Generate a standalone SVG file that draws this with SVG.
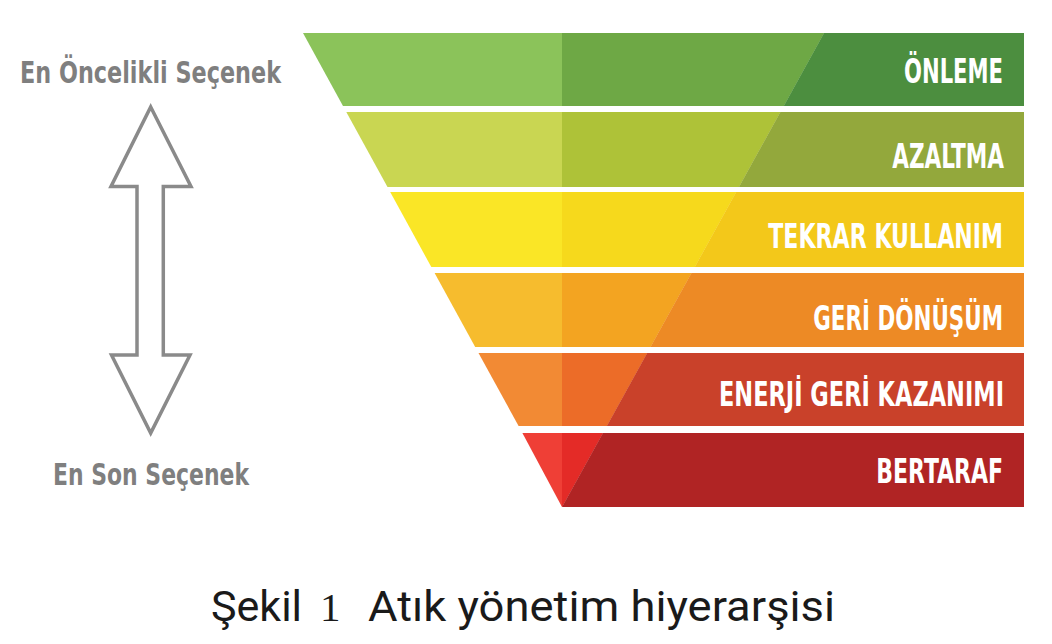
<svg xmlns="http://www.w3.org/2000/svg" width="1052" height="644" viewBox="0 0 1052 644">
<style>
.lbl{font-family:"DejaVu Sans Condensed","DejaVu Sans","Liberation Sans",sans-serif;font-stretch:condensed;font-weight:bold;font-size:34px;fill:#ffffff;text-anchor:end}
.side{font-family:"DejaVu Sans Condensed","DejaVu Sans","Liberation Sans",sans-serif;font-stretch:condensed;font-weight:bold;font-size:30px;fill:#7f7f7f}
.cap{font-family:Roboto,"Liberation Sans",sans-serif;font-size:43px;fill:#1a1a1a}
.arrow{fill:none;stroke:#8a8a8a;stroke-width:3.5;stroke-linejoin:miter}
</style>
<rect width="1052" height="644" fill="#ffffff"/>
<g id="band1">
<polygon points="303,33 824,33 783.7,106 343,106" fill="#8bc35a"/>
<polygon points="562,33 824,33 783.7,106 562,106" fill="#6ea845"/>
<polygon points="824,33 1024,33 1024,106 783.7,106" fill="#4c8e3f"/>
<text class="lbl" transform="translate(1003,83) scale(0.75,1)" textLength="132" lengthAdjust="spacingAndGlyphs">ÖNLEME</text>
</g>
<g id="band2">
<polygon points="346.3,112 780.3,112 738.9,187 387.5,187" fill="#c9d652"/>
<polygon points="562,112 780.3,112 738.9,187 562,187" fill="#aec238"/>
<polygon points="780.3,112 1024,112 1024,187 738.9,187" fill="#93a83c"/>
<text class="lbl" transform="translate(1004,168) scale(0.75,1)" textLength="149" lengthAdjust="spacingAndGlyphs">AZALTMA</text>
</g>
<g id="band3">
<polygon points="390.2,192 736.1,192 694.7,267 431.3,267" fill="#fae626"/>
<polygon points="562,192 736.1,192 694.7,267 562,267" fill="#f6d91c"/>
<polygon points="736.1,192 1024,192 1024,267 694.7,267" fill="#f3c81a"/>
<text class="lbl" transform="translate(1003,248) scale(0.75,1)" textLength="313" lengthAdjust="spacingAndGlyphs">TEKRAR KULLANIM</text>
</g>
<g id="band4">
<polygon points="434.6,273 691.4,273 650.4,347 475.2,347" fill="#f6bc2e"/>
<polygon points="562,273 691.4,273 650.4,347 562,347" fill="#f3a421"/>
<polygon points="691.4,273 1024,273 1024,347 650.4,347" fill="#ed8a25"/>
<text class="lbl" transform="translate(1003,330) scale(0.75,1)" textLength="253" lengthAdjust="spacingAndGlyphs">GERİ DÖNÜŞÜM</text>
</g>
<g id="band5">
<polygon points="478.5,353 647.1,353 606.8,426 518.6,426" fill="#f28a34"/>
<polygon points="562,353 647.1,353 606.8,426 562,426" fill="#ec6c28"/>
<polygon points="647.1,353 1024,353 1024,426 606.8,426" fill="#c9412a"/>
<text class="lbl" transform="translate(1004,406) scale(0.75,1)" textLength="380" lengthAdjust="spacingAndGlyphs">ENERJİ GERİ KAZANIMI</text>
</g>
<g id="band6">
<polygon points="522.4,433 602.9,433 562,507" fill="#ef3f36"/>
<polygon points="562,433 602.9,433 562,507" fill="#e42b27"/>
<polygon points="602.9,433 1024,433 1024,507 562,507" fill="#b02424"/>
<text class="lbl" transform="translate(1003,483) scale(0.75,1)" textLength="169" lengthAdjust="spacingAndGlyphs">BERTARAF</text>
</g>
<g id="priority">
<text class="side" x="20" y="83" textLength="261" lengthAdjust="spacingAndGlyphs">En Öncelikli Seçenek</text>
<text class="side" x="53" y="485" textLength="196" lengthAdjust="spacingAndGlyphs">En Son Seçenek</text>
</g>
<g id="connectors">
<polygon class="arrow" points="150.7,107 191,186.5 163.3,186.5 163.3,355 190,355 150.7,433 111.5,355 137,355 137,186.5 111,186.5"/>
</g>
<g id="caption">
<text class="cap" x="211" y="621">Şekil</text>
<text class="cap" x="320" y="621" style="font-family:'Liberation Serif',serif;font-size:41px">1</text>
<text class="cap" x="368" y="621" textLength="467" lengthAdjust="spacingAndGlyphs">Atık yönetim hiyerarşisi</text>
</g>
</svg>
